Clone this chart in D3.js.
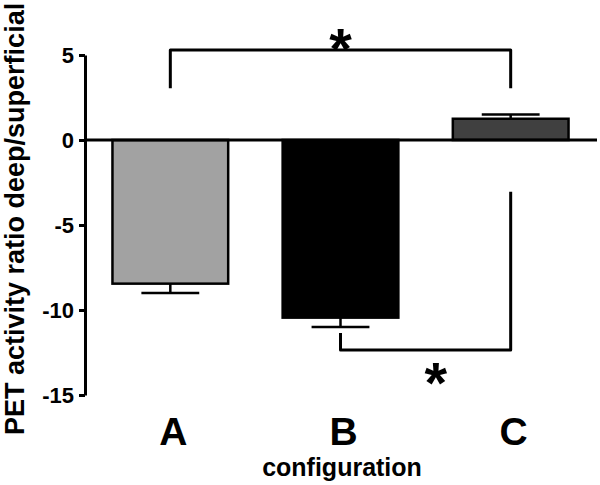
<!DOCTYPE html>
<html>
<head>
<meta charset="utf-8">
<script src="https://cdn.jsdelivr.net/npm/d3@7"></script>
<style>
    body { margin: 0; background: #fff; }
    svg text { font-family: "Liberation Sans", Arial, Helvetica, sans-serif; font-weight: bold; }
</style>
</head>
<body>
<div id="graph-placeholder"></div>
<script>
// data
var categories = ['A', 'B', 'C'];
var means = [-8.45, -10.45, 1.25];
var errors = [0.55, 0.55, 0.25];
var fills = ['#a2a2a2', '#000000', '#404040'];
var yTicks = [5, 0, -5, -10, -15];

// significance brackets: [from, to, from-end value, bar value, to-end value]
var brackets = [
    {from: 'A', to: 'C', startY: 3.05, lineY: 5.3, endY: 3.05, starX: 0.5, starY: 6.05},
    {from: 'B', to: 'C', startY: -11.35, lineY: -12.35, endY: -3.05, starX: 0.56, starY: -13.6}
];

var width = 600,
    height = 485,
    svg = d3.select('#graph-placeholder')
        .append('svg')
        .attr('width', width)
        .attr('height', height);

var yScale = d3.scaleLinear()
    .domain([-15, 5])
    .range([395, 55]);

var xScale = d3.scaleBand()
    .domain(categories)
    .range([58, 623])
    .padding(0.32);

var cx = function (c) {
    return xScale(c) + xScale.bandwidth() / 2;
};

// y axis
var yAxis = svg.append('g')
    .attr('transform', 'translate(85,0)')
    .call(d3.axisLeft(yScale)
        .tickValues(yTicks)
        .tickSize(6)
        .tickSizeOuter(0)
        .tickPadding(5)
        .tickFormat(function (d) { return String(d); }));

yAxis.select('.domain').attr('stroke', '#000').attr('stroke-width', 3);
yAxis.selectAll('.tick line').attr('stroke', '#000').attr('stroke-width', 3);
yAxis.selectAll('.tick text')
    .attr('fill', '#000')
    .style('font-size', '22px');

// bars
svg.append('g')
    .selectAll('rect')
    .data(categories)
    .enter()
    .append('rect')
    .attr('x', function (d) { return xScale(d); })
    .attr('width', xScale.bandwidth())
    .attr('y', function (d, i) { return yScale(Math.max(0, means[i])); })
    .attr('height', function (d, i) { return Math.abs(yScale(means[i]) - yScale(0)); })
    .attr('fill', function (d, i) { return fills[i]; })
    .attr('stroke', '#000')
    .attr('stroke-width', 2.5);

// error bars (outward only)
var err = svg.append('g')
    .attr('stroke', '#000')
    .attr('stroke-width', 2.5);

categories.forEach(function (c, i) {
    var sign = means[i] < 0 ? -1 : 1,
        tip = means[i] + sign * errors[i],
        half = xScale.bandwidth() / 4;
    err.append('line')
        .attr('x1', cx(c)).attr('x2', cx(c))
        .attr('y1', yScale(means[i])).attr('y2', yScale(tip));
    err.append('line')
        .attr('x1', cx(c) - half).attr('x2', cx(c) + half)
        .attr('y1', yScale(tip)).attr('y2', yScale(tip));
});

// zero line
svg.append('line')
    .attr('x1', 85)
    .attr('x2', 597)
    .attr('y1', yScale(0))
    .attr('y2', yScale(0))
    .attr('stroke', '#000')
    .attr('stroke-width', 3);

// brackets with stars
brackets.forEach(function (b) {
    var x1 = cx(b.from), x2 = cx(b.to);
    svg.append('path')
        .attr('d', 'M' + x1 + ',' + yScale(b.startY) +
            'V' + yScale(b.lineY) +
            'H' + x2 +
            'V' + yScale(b.endY))
        .attr('fill', 'none')
        .attr('stroke', '#000')
        .attr('stroke-width', 3)
        .attr('stroke-linejoin', 'round');
    svg.append('text')
        .attr('x', x1 + (x2 - x1) * b.starX)
        .attr('y', yScale(b.starY) + 32)
        .attr('text-anchor', 'middle')
        .style('font-size', '58px')
        .text('*');
});

// category labels
svg.append('g')
    .selectAll('text')
    .data(categories)
    .enter()
    .append('text')
    .attr('x', function (d) { return cx(d) + 3; })
    .attr('y', 445)
    .attr('text-anchor', 'middle')
    .style('font-size', '39px')
    .text(function (d) { return d; });

// axis titles
svg.append('text')
    .attr('x', 342)
    .attr('y', 476)
    .attr('text-anchor', 'middle')
    .style('font-size', '25px')
    .text('configuration');

svg.append('text')
    .attr('transform', 'translate(24,435) rotate(-90)')
    .attr('text-anchor', 'start')
    .style('font-size', '27px')
    .text('PET activity ratio deep/superficial');
</script>
</body>
</html>
